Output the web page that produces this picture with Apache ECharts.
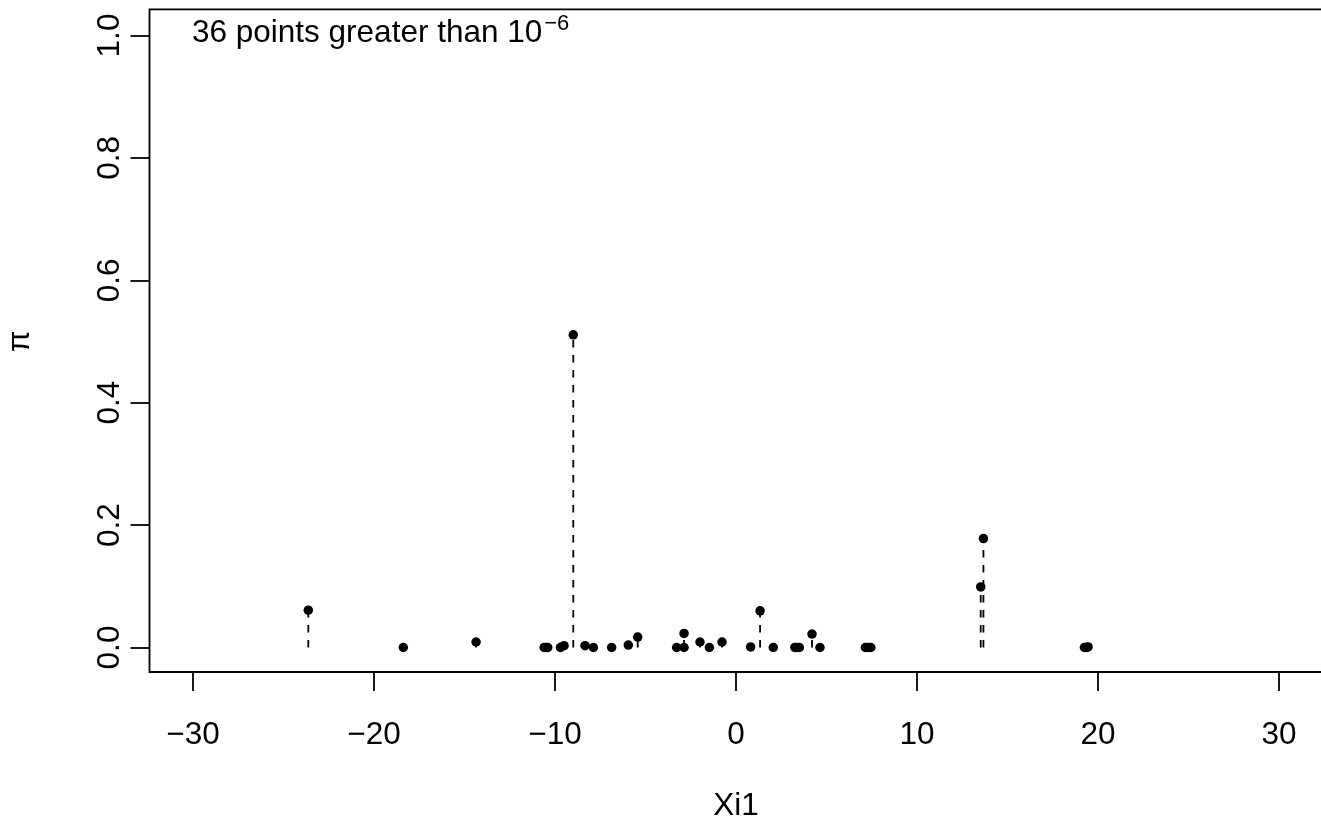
<!DOCTYPE html>
<html>
<head>
<meta charset="utf-8">
<script src="https://cdn.jsdelivr.net/npm/echarts@6/dist/echarts.min.js"></script>
<style>
html,body{margin:0;padding:0;background:#fff;}
#chart{width:1321px;height:820px;}
</style>
</head>
<body>
<div id="chart"></div>
<script>
// Data
const xi1 = [-23.63, -18.38, -14.36, -10.6, -10.5, -10.4, -9.7, -9.5, -8.99, -8.34, -7.88, -6.87,
  -5.95, -5.43, -3.28, -2.87, -2.87, -1.99, -1.47, -0.77, 0.81, 1.33, 2.06, 3.25, 3.35, 3.5,
  4.2, 4.64, 7.15, 7.3, 7.45, 13.52, 13.67, 19.25, 19.35, 19.45];
const pi = [0.061, 0.0, 0.009, 0.0, 0.0, 0.0, 0.0, 0.003, 0.511, 0.003, 0.0, 0.0,
  0.004, 0.017, 0.0, 0.0, 0.023, 0.009, 0.0, 0.009, 0.001, 0.060, 0.0, 0.0, 0.0, 0.0,
  0.022, 0.0, 0.0, 0.0, 0.0, 0.099, 0.178, 0.0, 0.0, 0.001];
const xTicks = [-30, -20, -10, 0, 10, 20, 30];
const yTicks = [0.0, 0.2, 0.4, 0.6, 0.8, 1.0];
const annotation = '36 points greater than 10';
const annotationExp = '\u22126';

const points = xi1.map((x, i) => [x, pi[i]]);
const FONT = 'Liberation Sans, Arial, Helvetica, sans-serif';
const FS = 31.5;
const LW = 1.8;
const chart = echarts.init(document.getElementById('chart'), null, {renderer: 'canvas'});

chart.setOption({
  backgroundColor: '#fff',
  animation: false,
  title: {
    left: 192, top: 13, padding: 0,
    text: '{m|' + annotation + '}{s|' + annotationExp + '}',
    textStyle: {
      fontWeight: 'normal',
      rich: {
        m: {fontFamily: FONT, fontSize: FS, fontWeight: 'normal', color: '#000', lineHeight: 36, verticalAlign: 'bottom'},
        s: {fontFamily: FONT, fontSize: 22, fontWeight: 'normal', color: '#000', lineHeight: 9, verticalAlign: 'top', padding: [0, 0, 0, 2]}
      }
    }
  },
  grid: [
    {left: 193, top: 35.5, width: 1086, height: 612, show: false, outerBoundsMode: 'none', containLabel: false},
    {left: 149.5, top: 9.3, width: 1172.9, height: 662.7, show: true, outerBoundsMode: 'none', containLabel: false,
      borderColor: '#000', borderWidth: LW, backgroundColor: 'transparent'}
  ],
  xAxis: [
    {
      gridIndex: 0, type: 'value', min: xTicks[0], max: xTicks[xTicks.length - 1], interval: 10,
      position: 'bottom', offset: 24.5,
      axisLine: {show: false, onZero: false},
      axisTick: {show: true, length: 19, lineStyle: {color: '#000', width: LW}},
      splitLine: {show: false},
      axisLabel: {margin: 47, fontFamily: FONT, fontSize: FS, color: '#000',
        formatter: v => String(v).replace('-', '\u2212')},
      name: 'Xi1', nameLocation: 'middle', nameGap: 118,
      nameTextStyle: {fontFamily: FONT, fontSize: FS, color: '#000'}
    },
    {gridIndex: 1, type: 'value', show: false, min: 0, max: 1}
  ],
  yAxis: [
    {
      gridIndex: 0, type: 'value', min: yTicks[0], max: yTicks[yTicks.length - 1], interval: 0.2,
      position: 'left', offset: 43.5,
      axisLine: {show: false, onZero: false},
      axisTick: {show: true, length: 19, lineStyle: {color: '#000', width: LW}},
      splitLine: {show: false},
      axisLabel: {margin: 23, rotate: 90, fontFamily: FONT, fontSize: FS, color: '#000',
        formatter: v => v.toFixed(1)},
      name: '\u03c0', nameLocation: 'middle', nameGap: 113, nameRotate: 90,
      nameTextStyle: {fontFamily: FONT, fontSize: FS, color: '#000'}
    },
    {gridIndex: 1, type: 'value', show: false, min: 0, max: 1}
  ],
  series: [
    {
      type: 'custom', xAxisIndex: 0, yAxisIndex: 0, data: points, silent: true,
      renderItem: function (params, api) {
        const x = api.value(0), y = api.value(1);
        const p0 = api.coord([x, 0]);
        const p1 = api.coord([x, y]);
        return {
          type: 'line',
          shape: {x1: p0[0], y1: p0[1], x2: p1[0], y2: p1[1]},
          style: {stroke: '#000', lineWidth: LW, lineDash: [7.5, 7.5]}
        };
      }
    },
    {
      type: 'scatter', xAxisIndex: 0, yAxisIndex: 0, data: points, symbol: 'circle', symbolSize: 9.5,
      itemStyle: {color: '#000', opacity: 1}, silent: true
    }
  ]
});
</script>
</body>
</html>
